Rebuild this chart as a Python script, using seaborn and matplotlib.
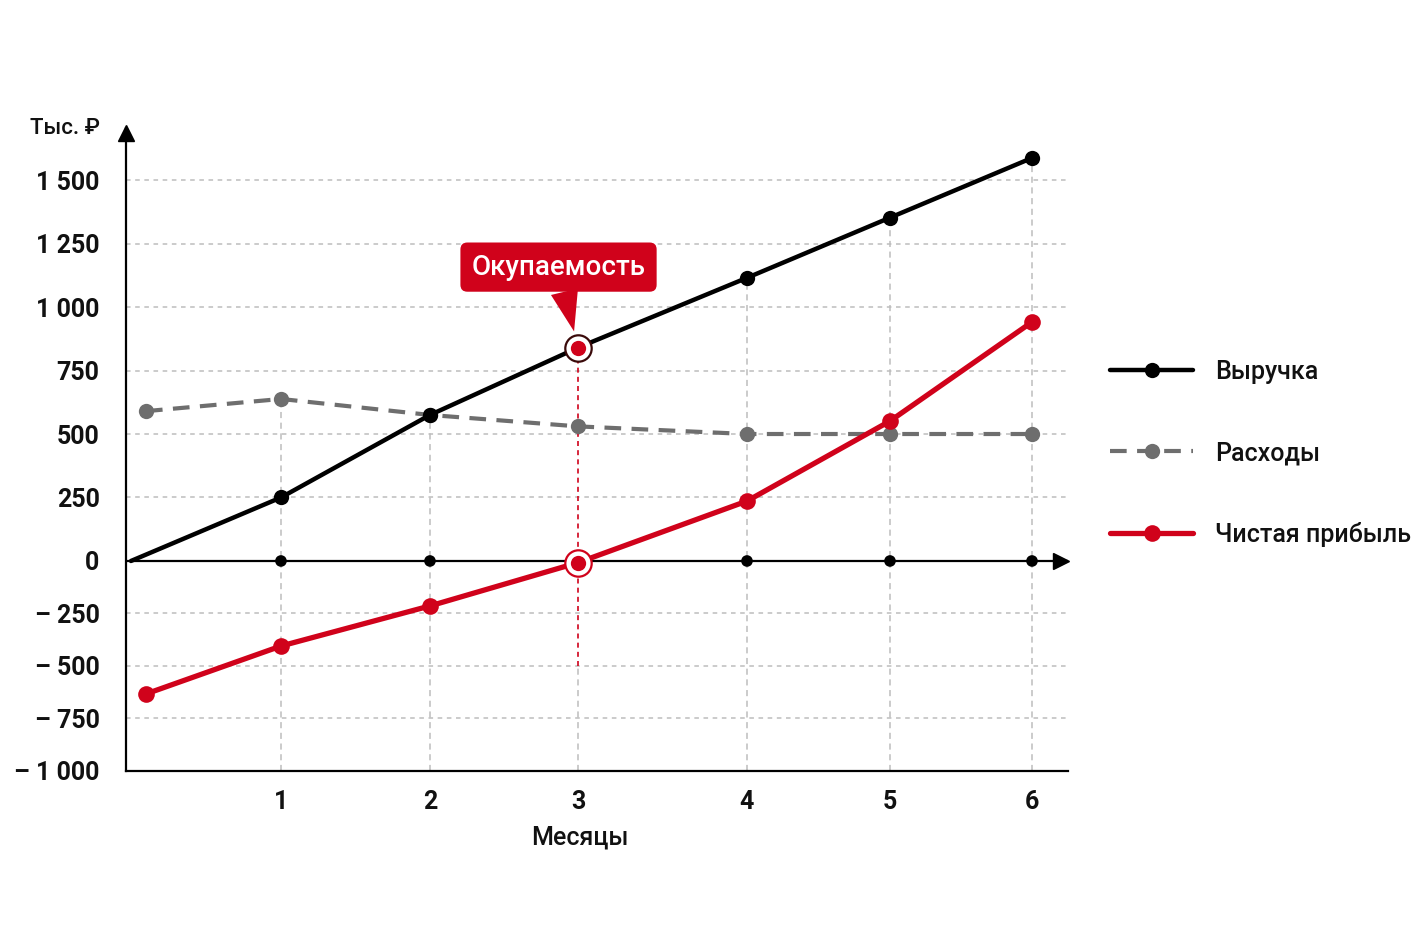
import numpy as np
import matplotlib
matplotlib.use("Agg")
import matplotlib.pyplot as plt
import seaborn as sns
from matplotlib import font_manager

# ---------------- data ----------------
revenue_months = [0, 1, 2, 3, 4, 5, 6]
revenue = [0, 250, 575, 840, 1115, 1352, 1587]
expense_months = [0.1, 1, 2, 3, 4, 5, 6]
expenses = [590, 638, 575, 530, 500, 500, 500]
profit_months = [0.1, 1, 2, 3, 4, 5, 6]
profit = [-633, -405, -214, -8, 236, 551, 941]
axis_dot_months = [1, 2, 4, 5, 6]
x_ticks = [1, 2, 3, 4, 5, 6]
y_ticks = [-1000, -750, -500, -250, 0, 250, 500, 750, 1000, 1250, 1500]
y_tick_labels = ["– 1 000", "– 750", "– 500", "– 250", "0", "250", "500",
                 "750", "1 000", "1 250", "1 500"]
series_labels = ["Выручка", "Расходы", "Чистая прибыль"]
payback_month = 3
payback_revenue = 840
payback_profit = -8
payback_line_bottom = -500
payback_label = "Окупаемость"
y_label = "Тыс. ₽"
x_label = "Месяцы"

RED = "#D0021B"
GREY = "#6E6E6E"
GRID = "#BDBDBD"

sns.set_theme(style="white")
plt.rcParams["font.family"] = ["Roboto", "DejaVu Sans"]

# axis scales (piecewise, as in the original drawing)
scale_m = [-1, 0, 1, 2, 3, 4, 5, 6, 7]
scale_p = [-19, 131, 281, 430, 578, 747, 890, 1032, 1174]


def x_fwd(x):
    return np.interp(np.asarray(x, dtype=float), scale_m, scale_p)


def x_inv(p):
    return np.interp(np.asarray(p, dtype=float), scale_p, scale_m)


NEG = 0.827


def y_fwd(y):
    y = np.asarray(y, dtype=float)
    return np.where(y < 0, y * NEG, y)


def y_inv(t):
    t = np.asarray(t, dtype=float)
    return np.where(t < 0, t / NEG, t)


fig = plt.figure(figsize=(14.28, 9.52), dpi=100)
ax = fig.add_axes([126 / 1428, 1 - 771 / 952, (1068 - 126) / 1428, (771 - 128) / 952])
ax.set_xscale("function", functions=(x_fwd, x_inv))
ax.set_yscale("function", functions=(y_fwd, y_inv))
ax.set_xlim(-0.033, 6.2535)
ax.set_ylim(-1000, 1705)

# grid
hgrid = [t for t in y_ticks if t not in (0, -1000)]
ax.hlines(hgrid, -0.033, 6.2535, colors=GRID, linewidth=1.1,
          linestyles=(0, (3, 3)), zorder=1)
for m in x_ticks:
    tops = []
    for xs, ys in ((revenue_months, revenue), (expense_months, expenses), (profit_months, profit)):
        tops.append(ys[xs.index(m)])
    top = max(tops)
    if m == payback_month:
        ax.vlines(m, -1000, payback_line_bottom, colors=GRID, linewidth=1.1,
                  linestyles=(0, (4, 3)), zorder=1)
        ax.vlines(m, payback_line_bottom, top, colors=RED, linewidth=1.2,
                  linestyles=(0, (3, 2.5)), zorder=1.5)
    else:
        ax.vlines(m, -1000, top, colors=GRID, linewidth=1.1,
                  linestyles=(0, (4, 3)), zorder=1)

# x axis at zero with arrow
ax.axhline(0, color="black", linewidth=1.6, zorder=2)
ax.plot([0.9928], [0], marker=">", markersize=12, color="black",
        transform=ax.get_yaxis_transform(), clip_on=False, zorder=2)
ax.plot([0], [0.993], marker="^", markersize=12, color="black",
        transform=ax.transAxes, clip_on=False, zorder=2)

# dots on axis
sns.scatterplot(x=axis_dot_months, y=[0] * len(axis_dot_months), ax=ax, color="black",
                s=70, edgecolor="none", zorder=3, legend=False)

# series
sns.lineplot(x=expense_months, y=expenses, ax=ax, color=GREY, linewidth=3.0,
             marker="o", markersize=11, markeredgewidth=0, dashes=False,
             linestyle=(0, (4, 2.5)), label=series_labels[1], zorder=3)
sns.lineplot(x=revenue_months, y=revenue, ax=ax, color="black", linewidth=3.2,
             marker="o", markersize=11, markeredgewidth=0,
             markevery=list(range(1, len(revenue))), label=series_labels[0], zorder=4)
sns.lineplot(x=profit_months, y=profit, ax=ax, color=RED, linewidth=3.8,
             marker="o", markersize=12, markeredgewidth=0,
             label=series_labels[2], zorder=5)

# payback markers
for yv, ec in ((payback_revenue, "#3a0a0a"), (payback_profit, RED)):
    ax.plot([payback_month], [yv], marker="o", markersize=19, markerfacecolor="white",
            markeredgecolor=ec, markeredgewidth=1.6, zorder=6)
    ax.plot([payback_month], [yv], marker="o", markersize=11, markerfacecolor=RED,
            markeredgewidth=0, zorder=7)

# annotation
ax.annotate(payback_label, xy=(payback_month, payback_revenue), xycoords="data",
            xytext=(-14, 58), textcoords="offset points", ha="center", va="center",
            color="white", fontsize=20, fontweight="medium",
            bbox=dict(boxstyle="round,pad=0.4,rounding_size=0.25", fc=RED, ec="none"),
            arrowprops=dict(arrowstyle="wedge,tail_width=1.0,shrink_factor=0.5",
                            fc=RED, ec="none", shrinkA=0, shrinkB=12),
            zorder=8)

# spines & ticks
for s in ("top", "right"):
    ax.spines[s].set_visible(False)
for s in ("left", "bottom"):
    ax.spines[s].set_color("black")
    ax.spines[s].set_linewidth(1.6)

ax.set_yticks(y_ticks, y_tick_labels)
ax.set_xticks(x_ticks, [str(m) for m in x_ticks])
ax.yaxis.set_minor_locator(matplotlib.ticker.NullLocator())
ax.xaxis.set_minor_locator(matplotlib.ticker.NullLocator())
ax.tick_params(axis="y", length=7, width=1.5, color="black", direction="out", pad=12,
               labelsize=18, labelcolor="#111111")
ax.tick_params(axis="x", length=0, pad=14, labelsize=18, labelcolor="#111111")
for lab in ax.get_yticklabels() + ax.get_xticklabels():
    lab.set_fontweight("bold")

ax.set_xlabel(x_label, fontsize=18, fontweight="medium", color="#111111", labelpad=10)
ax.xaxis.set_label_coords((580 - 126) / 942, -0.085)
ax.set_ylabel("")
ax.text(-0.028, 1.0, y_label, transform=ax.transAxes, ha="right", va="center",
        fontsize=16, fontweight="medium", color="#111111")

# legend
leg_size = 18
px = leg_size * 100 / 72
handles, labels = ax.get_legend_handles_labels()
order = [labels.index(l) for l in series_labels]
leg = ax.legend([handles[i] for i in order], [labels[i] for i in order],
                loc="upper left", bbox_to_anchor=(1110 / 1428, 1 - 360 / 952),
                bbox_transform=fig.transFigure, frameon=False,
                prop=font_manager.FontProperties(family=["Roboto", "DejaVu Sans"],
                                                 size=leg_size, weight="medium"),
                handlelength=83 / px, handletextpad=22 / px,
                labelspacing=2.28,
                borderpad=0, borderaxespad=0)
for t in leg.get_texts():
    t.set_color("#111111")

fig.savefig("out.png", dpi=100, facecolor="white")
